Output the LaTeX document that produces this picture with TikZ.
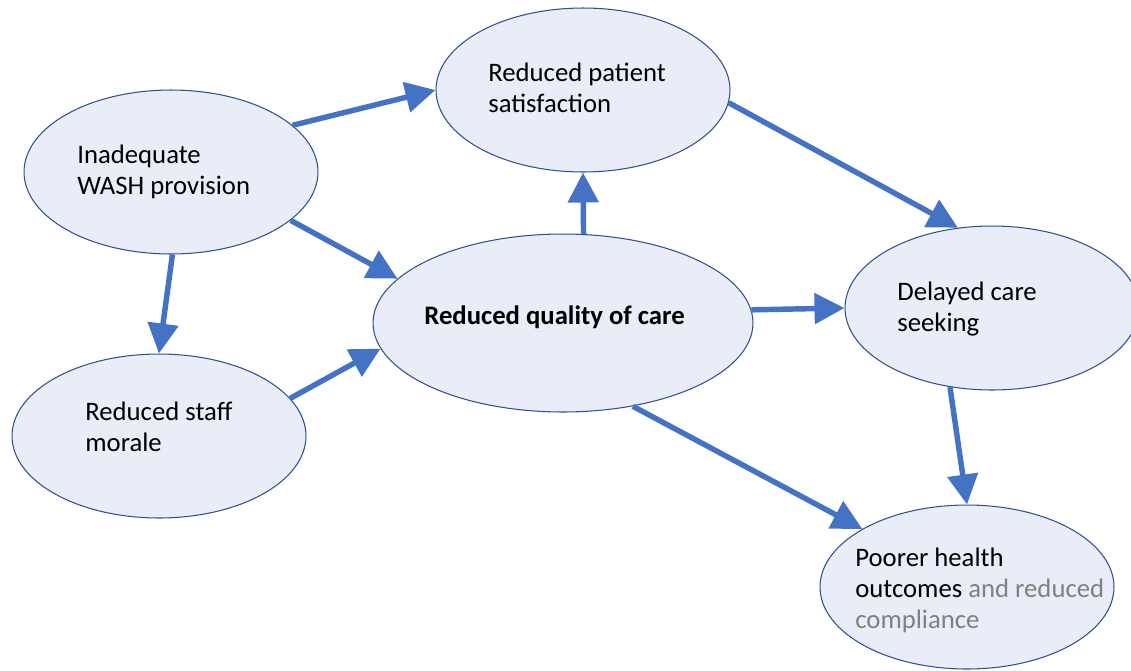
\documentclass[tikz,border=0pt]{standalone}
\usepackage{fontspec}
\setmainfont{Carlito}
\usetikzlibrary{shapes.geometric, arrows.meta}
\definecolor{bubblefill}{HTML}{E9EDF7}
\definecolor{bubbleline}{HTML}{2F528F}
\definecolor{linkblue}{HTML}{4472C4}
\definecolor{softgray}{HTML}{808080}

\begin{document}
\begin{tikzpicture}[x=0.02cm, y=-0.02cm,
  bubble/.style = {draw=bubbleline, fill=bubblefill, ellipse, line width=0.6pt, inner sep=0pt, minimum width=5.88cm, minimum height=3.28cm},
  bubbletext/.style = {anchor=west, align=left, inner sep=0pt, font=\fontsize{15.2}{17.6}\selectfont},
  link/.style = {draw=linkblue, line width=3.1pt, -{Triangle[length=0.6cm, width=0.6cm]}}]
\useasboundingbox (0,0) rectangle (1131,670);

\node[bubble] (wash) at (171,172) {};
\node[bubble] (sat) at (583,90) {};
\node[bubble, minimum width=7.6cm, minimum height=3.56cm] (quality) at (563,323) {};
\node[bubble] (delay) at (992,308) {};
\node[bubble] (morale) at (159,436) {};
\node[bubble] (poor) at (967,587) {};

\node[bubbletext] (washtxt) at (77,172) {Inadequate\\WASH provision};
\node[bubbletext] (sattxt) at (488,87.5) {Reduced patient\\satisfaction};
\node[bubbletext, font=\fontsize{15.2}{17.6}\selectfont\bfseries] (qualitytxt) at (424,317) {Reduced quality of care};
\node[bubbletext] (delaytxt) at (897,309) {Delayed care\\seeking};
\node[bubbletext] (moraletxt) at (85,426.5) {Reduced staff\\morale};
\node[bubbletext] (poortxt) at (855,590) {Poorer health\\outcomes \textcolor{softgray}{and reduced}\\\textcolor{softgray}{compliance}};

\draw[link] (wash.21) -- (sat.west);
\draw[link] (wash.-22) -- (quality.165);
\draw[link] (wash.-89) -- (morale.north);
\draw[link] (morale.16) -- (quality.-172);
\draw[link] (quality.77) -- (sat.south);
\draw[link] (sat.-5) -- (delay.113);
\draw[link] (quality.4) -- (delay.west);
\draw[link] (quality.-50) -- (poor.151);
\draw[link] (delay.-118) -- (poor.north);
\end{tikzpicture}
\end{document}
